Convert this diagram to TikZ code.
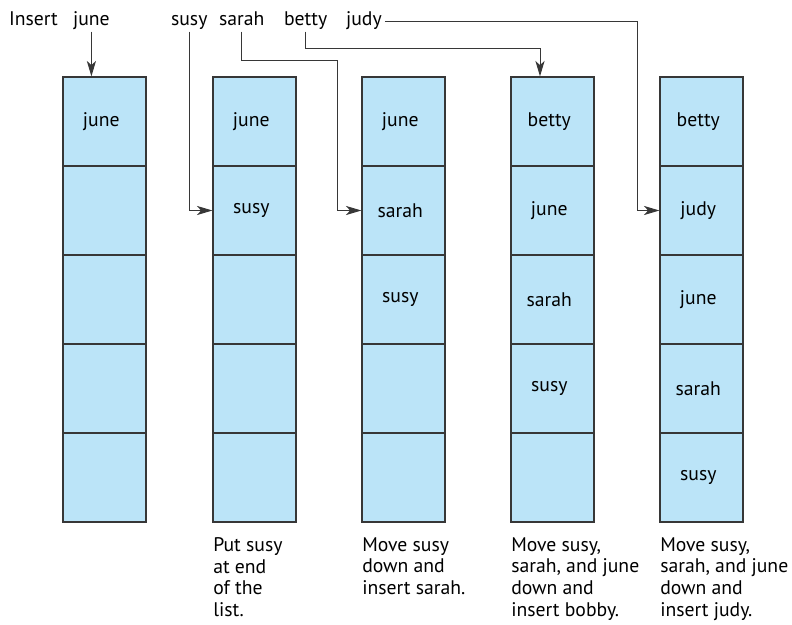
\documentclass[tikz,border=0pt]{standalone}
\usepackage{fontspec}
\setmainfont{PT Sans}
\usetikzlibrary{arrows.meta}

\definecolor{cellblue}{RGB}{187,228,248}
\definecolor{edgegray}{RGB}{55,55,55}

\begin{document}
\begin{tikzpicture}[x=0.025cm, y=-0.025cm,
    font=\fontsize{14}{15.5}\selectfont,
    cell/.style={draw=edgegray, fill=cellblue, line width=0.85pt,
                 minimum width=2.075cm, minimum height=2.225cm, inner sep=0pt},
    word/.style={anchor=base west, inner sep=2pt, text height=1.6ex, text depth=0.5ex},
    link/.style={draw=edgegray, line width=0.7pt},
    arrow/.style={link, -{Stealth[length=11pt, width=6.5pt, inset=3pt]}},
    note/.style={align=left, anchor=north west, inner sep=0pt}]

    % Page frame
    \useasboundingbox (0,0) rectangle (792,625);

    % The five snapshots of the list, five slots each
    \foreach \col/\x in {1/104.5, 2/254.5, 3/403.5, 4/552.5, 5/701.5}
        \foreach \row in {1,...,5}
            \node[cell] (c\col-\row) at (\x, {32.5+89*\row}) {};

    % Slot contents
    \foreach \col/\row/\name in {1/1/june,
                                 2/1/june, 2/2/susy,
                                 3/1/june, 3/2/sarah, 3/3/susy,
                                 4/1/betty, 4/2/june, 4/3/sarah, 4/4/susy,
                                 5/1/betty, 5/2/judy, 5/3/june, 5/4/sarah, 5/5/susy}
        \node (t\col-\row) at ([xshift=-0.08cm]c\col-\row) {\name};

    % Names being inserted
    \node[word] (insert) at (6,25) {Insert};
    \node[word] (june) at (70,25) {june};
    \node[word] (susy) at (168,25) {susy};
    \node[word] (sarah) at (216,25) {sarah};
    \node[word] (betty) at (281,25) {betty};
    \node[word] (judy) at (343,25) {judy};

    % Where each name goes
    \coordinate (sarahturn) at (337,60);
    \coordinate (bettyturn) at (540,48);
    \coordinate (judyturn) at (637,210.5);
    \draw[arrow] (june.south) -- (june.south |- c1-1.north);
    \draw[arrow] (susy.south) |- (c2-2.west);
    \draw[arrow] (sarah.south) |- (sarahturn) |- (c3-2.west);
    \draw[arrow] (betty.south) |- (bettyturn) -- (bettyturn |- c4-1.north);
    \draw[arrow] (judy.east) -| (judyturn) -- (c5-2.west);

    % Captions under the lists
    \node[note] (note2) at (213,537) {Put susy\\at end\\of the\\list.};
    \node[note] (note3) at (362,537) {Move susy\\down and\\insert sarah.};
    \node[note] (note4) at (511,537) {Move susy,\\sarah, and june\\down and\\insert bobby.};
    \node[note] (note5) at (660,537) {Move susy,\\sarah, and june\\down and\\insert judy.};

\end{tikzpicture}
\end{document}
